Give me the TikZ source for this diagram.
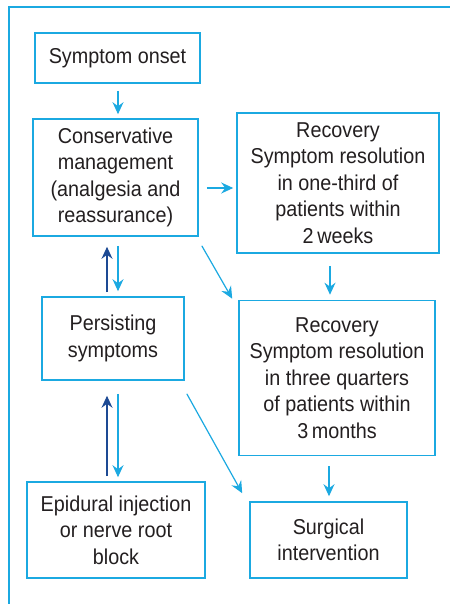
\documentclass[tikz,border=0pt]{standalone}
\usepackage{fontspec}
\setmainfont{Liberation Sans}[FakeStretch=0.92]
\usetikzlibrary{arrows.meta}
\definecolor{lblue}{HTML}{1BA9E1}
\definecolor{dblue}{HTML}{1D4A94}
\definecolor{txt}{HTML}{231F20}
\tikzset{
  box/.style={draw=lblue, line width=1.6pt, rectangle, align=center, inner sep=0pt,
    text=txt, font=\fontsize{21.5}{26.5}\selectfont},
  arr/.style={draw=lblue, line width=1.2pt, -{Stealth[length=12pt,width=11pt,inset=4pt]}},
  darr/.style={draw=dblue, line width=1.2pt, -{Stealth[length=12pt,width=11pt,inset=4pt]}},
}
\begin{document}
\begin{tikzpicture}[x=1pt,y=-1pt]
\useasboundingbox (0,0) rectangle (449,604);
\fill[white] (0,0) rectangle (449,604);
\draw[lblue, line width=1.5pt] (9,615) -- (9,7) -- (460,7);

\node[box, minimum width=165pt, minimum height=50pt] (onset) at (117.5,58) {Symptom onset};
\node[box, minimum width=165pt, minimum height=117pt] (cons) at (115.5,177.5)
  {Conservative\\management\\(analgesia and\\reassurance)};
\node[box, minimum width=202pt, minimum height=140pt] (rec1) at (338,183)
  {Recovery\\Symptom resolution\\in one-third of\\patients within\\2\,weeks};
\node[box, minimum width=142pt, minimum height=83pt] (pers) at (113,338.5)
  {Persisting\\symptoms};
\node[box, minimum width=196pt, minimum height=155pt] (rec2) at (337,378)
  {Recovery\\Symptom resolution\\in three quarters\\of patients within\\3\,months};
\node[box, minimum width=178pt, minimum height=96pt] (epi) at (116,530)
  {Epidural injection\\or nerve root\\block};
\node[box, minimum width=157pt, minimum height=76pt] (surg) at (328.5,540)
  {Surgical\\intervention};

% vertical arrows
\draw[arr, shorten <=7pt, shorten >=4pt] (118,0 |- onset.south) -- (118,0 |- cons.north);
\draw[arr, shorten <=9pt, shorten >=5pt] (118,0 |- cons.south) -- (118,0 |- pers.north);
\draw[darr, shorten <=4pt, shorten >=10pt] (107,0 |- pers.north) -- (107,0 |- cons.south);
\draw[arr, shorten <=13pt, shorten >=4pt] (118,0 |- pers.south) -- (118,0 |- epi.north);
\draw[darr, shorten <=5pt, shorten >=15pt] (107,0 |- epi.north) -- (107,0 |- pers.south);
\draw[arr, shorten <=12pt, shorten >=5pt] (330,0 |- rec1.south) -- (330,0 |- rec2.north);
\draw[arr, shorten <=10pt, shorten >=5pt] (329,0 |- rec2.south) -- (329,0 |- surg.north);
% horizontal
\draw[arr, shorten <=8pt, shorten >=3pt] (cons.east |- 0,188) -- (rec1.west |- 0,188);
% diagonals
\draw[arr] ([xshift=3pt,yshift=-9pt]cons.south east) -- ([xshift=-6pt,yshift=1pt]rec2.north west);
\draw[arr] ([xshift=2pt,yshift=-13pt]pers.south east) -- ([xshift=-7pt,yshift=8pt]surg.north west);
\end{tikzpicture}
\end{document}
